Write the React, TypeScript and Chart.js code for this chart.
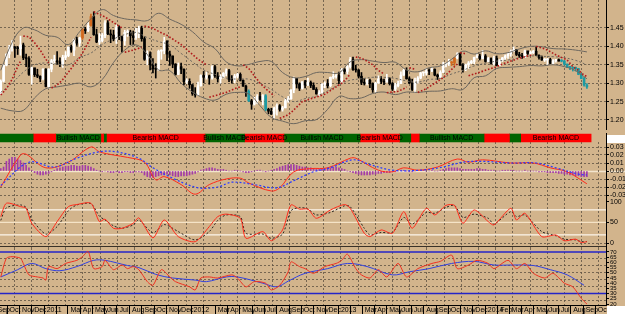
import React, { useEffect, useRef } from 'react';
import { Chart, registerables } from 'chart.js';

Chart.register(...registerables);

const W = 625;
const AXIS_W = 19;
const FONT = '"Liberation Sans", Arial, Helvetica, sans-serif';
const BG = '#D2B48C';
const GRID = 'rgba(95,82,66,0.8)';
const CLEAR = 'rgba(0,0,0,0)';
const X_MIN = -0.27;
const X_MAX = 214.78;
const START_MS = Date.UTC(2010, 8, 13);
const WEEK_MS = 7 * 86400000;
const GRID_W0 = -1.4;
const GRID_DW = 6.104;

// ---------------- price (weekly candles) ----------------
const firstOpen = 1.272;
const closes = [
  1.3055, 1.349, 1.379, 1.396, 1.398, 1.395, 1.394, 1.404, 1.369, 1.367,
  1.324, 1.342, 1.323, 1.319, 1.312, 1.338, 1.291, 1.338, 1.361, 1.361,
  1.358, 1.351, 1.37, 1.375, 1.398, 1.39, 1.418, 1.409, 1.423, 1.447,
  1.443, 1.457, 1.481, 1.432, 1.412, 1.416, 1.43, 1.464, 1.434, 1.431,
  1.42, 1.451, 1.426, 1.415, 1.438, 1.439, 1.429, 1.424, 1.439, 1.449,
  1.421, 1.365, 1.379, 1.35, 1.339, 1.338, 1.387, 1.389, 1.414, 1.379,
  1.374, 1.352, 1.324, 1.345, 1.338, 1.304, 1.305, 1.296, 1.272, 1.268,
  1.293, 1.321, 1.316, 1.32, 1.314, 1.345, 1.32, 1.312, 1.317, 1.327,
  1.334, 1.31, 1.308, 1.319, 1.324, 1.308, 1.292, 1.278, 1.252, 1.243,
  1.252, 1.264, 1.256, 1.266, 1.229, 1.224, 1.216, 1.232, 1.239, 1.229,
  1.233, 1.252, 1.258, 1.282, 1.313, 1.298, 1.286, 1.304, 1.295, 1.302,
  1.294, 1.283, 1.271, 1.274, 1.297, 1.299, 1.293, 1.316, 1.318, 1.321,
  1.307, 1.337, 1.332, 1.345, 1.364, 1.337, 1.336, 1.319, 1.302, 1.3,
  1.308, 1.299, 1.282, 1.3, 1.311, 1.305, 1.303, 1.312, 1.299, 1.284,
  1.293, 1.299, 1.322, 1.335, 1.312, 1.301, 1.283, 1.307, 1.314, 1.328,
  1.328, 1.334, 1.333, 1.338, 1.322, 1.318, 1.329, 1.352, 1.352, 1.356,
  1.355, 1.368, 1.38, 1.349, 1.337, 1.35, 1.355, 1.359, 1.37, 1.374,
  1.367, 1.374, 1.359, 1.367, 1.354, 1.368, 1.348, 1.363, 1.369, 1.374,
  1.38, 1.387, 1.391, 1.378, 1.375, 1.37, 1.388, 1.381, 1.383, 1.387,
  1.376, 1.37, 1.363, 1.363, 1.364, 1.354, 1.361, 1.364, 1.36, 1.36,
  1.352, 1.343, 1.343, 1.341, 1.34, 1.324, 1.313, 1.295, 1.29,
];
const highs = [
  1.309, 1.35, 1.38, 1.403, 1.416, 1.4, 1.4, 1.428, 1.409, 1.379,
  1.372, 1.344, 1.34, 1.338, 1.32, 1.34, 1.34, 1.34, 1.365, 1.376,
  1.386, 1.369, 1.376, 1.386, 1.399, 1.404, 1.42, 1.425, 1.425, 1.448,
  1.452, 1.465, 1.488, 1.494, 1.447, 1.435, 1.435, 1.47, 1.47, 1.445,
  1.444, 1.458, 1.456, 1.428, 1.444, 1.445, 1.444, 1.442, 1.449, 1.455,
  1.455, 1.426, 1.388, 1.385, 1.367, 1.353, 1.39, 1.391, 1.425, 1.416,
  1.387, 1.374, 1.353, 1.355, 1.355, 1.339, 1.312, 1.312, 1.296, 1.288,
  1.303, 1.323, 1.332, 1.33, 1.322, 1.348, 1.349, 1.329, 1.323, 1.329,
  1.339, 1.338, 1.321, 1.324, 1.327, 1.328, 1.309, 1.295, 1.282, 1.256,
  1.262, 1.269, 1.275, 1.269, 1.269, 1.232, 1.232, 1.235, 1.244, 1.242,
  1.237, 1.258, 1.264, 1.282, 1.317, 1.311, 1.301, 1.304, 1.308, 1.314,
  1.306, 1.301, 1.288, 1.28, 1.299, 1.304, 1.31, 1.317, 1.331, 1.326,
  1.33, 1.34, 1.34, 1.348, 1.37, 1.371, 1.349, 1.337, 1.329, 1.313,
  1.311, 1.311, 1.301, 1.303, 1.32, 1.318, 1.311, 1.324, 1.315, 1.302,
  1.3, 1.306, 1.331, 1.339, 1.342, 1.317, 1.311, 1.314, 1.318, 1.33,
  1.33, 1.34, 1.339, 1.343, 1.339, 1.325, 1.334, 1.357, 1.355, 1.365,
  1.359, 1.37, 1.383, 1.381, 1.353, 1.352, 1.359, 1.362, 1.371, 1.381,
  1.379, 1.389, 1.378, 1.37, 1.369, 1.374, 1.374, 1.364, 1.37, 1.377,
  1.382, 1.39, 1.399, 1.392, 1.384, 1.381, 1.39, 1.385, 1.387, 1.389,
  1.399, 1.377, 1.374, 1.367, 1.368, 1.368, 1.364, 1.365, 1.366, 1.364,
  1.362, 1.352, 1.345, 1.344, 1.344, 1.34, 1.326, 1.316, 1.299,
];
const lows = [
  1.27, 1.303, 1.347, 1.369, 1.387, 1.37, 1.378, 1.376, 1.364, 1.345,
  1.321, 1.297, 1.318, 1.315, 1.304, 1.309, 1.29, 1.287, 1.331, 1.353,
  1.352, 1.345, 1.343, 1.364, 1.372, 1.384, 1.375, 1.403, 1.4, 1.419,
  1.435, 1.44, 1.455, 1.43, 1.41, 1.405, 1.412, 1.424, 1.432, 1.41,
  1.415, 1.408, 1.418, 1.384, 1.403, 1.427, 1.405, 1.405, 1.419, 1.424,
  1.414, 1.362, 1.35, 1.336, 1.328, 1.314, 1.334, 1.365, 1.38, 1.361,
  1.348, 1.342, 1.322, 1.323, 1.326, 1.295, 1.299, 1.286, 1.267, 1.262,
  1.266, 1.292, 1.301, 1.311, 1.297, 1.311, 1.316, 1.303, 1.3, 1.314,
  1.32, 1.304, 1.3, 1.301, 1.314, 1.306, 1.291, 1.264, 1.25, 1.229,
  1.24, 1.244, 1.253, 1.241, 1.225, 1.217, 1.215, 1.204, 1.213, 1.224,
  1.224, 1.233, 1.248, 1.256, 1.274, 1.287, 1.28, 1.284, 1.287, 1.293,
  1.288, 1.283, 1.27, 1.266, 1.273, 1.288, 1.287, 1.29, 1.312, 1.314,
  1.299, 1.3, 1.325, 1.325, 1.341, 1.335, 1.33, 1.314, 1.296, 1.295,
  1.295, 1.288, 1.275, 1.274, 1.3, 1.299, 1.296, 1.303, 1.295, 1.28,
  1.28, 1.29, 1.299, 1.321, 1.311, 1.299, 1.28, 1.275, 1.3, 1.312,
  1.32, 1.322, 1.323, 1.331, 1.32, 1.31, 1.315, 1.329, 1.344, 1.348,
  1.348, 1.348, 1.366, 1.348, 1.33, 1.334, 1.34, 1.353, 1.353, 1.369,
  1.363, 1.366, 1.357, 1.358, 1.352, 1.35, 1.347, 1.348, 1.359, 1.364,
  1.367, 1.373, 1.386, 1.375, 1.37, 1.367, 1.37, 1.378, 1.378, 1.38,
  1.375, 1.365, 1.362, 1.359, 1.35, 1.353, 1.352, 1.357, 1.36, 1.358,
  1.349, 1.342, 1.337, 1.333, 1.333, 1.323, 1.312, 1.292, 1.286,
];
const tealBars = [88, 94, 199, 200, 201, 202, 203, 204, 205, 206, 207, 208];
const orangeBars = [29, 32, 160, 161];

// Bollinger bands (sampled every 4 weeks)
const bandWeeks = [
  0, 4, 8, 12, 16, 20, 24, 28, 32, 36, 40, 44, 48, 52, 56, 60, 64, 68, 72, 76,
  80, 84, 88, 92, 96, 100, 104, 108, 112, 116, 120, 124, 128, 132, 136, 140,
  144, 148, 152, 156, 160, 164, 168, 172, 176, 180, 184, 188, 192, 196, 200, 204, 208,
];
const bandUpper = [
  1.335, 1.41, 1.45, 1.445, 1.43, 1.425, 1.405, 1.44, 1.475, 1.5,
  1.484, 1.475, 1.472, 1.47, 1.49, 1.474, 1.46, 1.44, 1.412, 1.394,
  1.358, 1.347, 1.351, 1.359, 1.359, 1.329, 1.315, 1.318, 1.329, 1.329,
  1.328, 1.358, 1.364, 1.36, 1.356, 1.357, 1.336, 1.331, 1.342, 1.347,
  1.365, 1.387, 1.379, 1.388, 1.38, 1.383, 1.393, 1.4, 1.399, 1.394,
  1.393, 1.39, 1.385,
];
const bandMiddle = [
  1.275, 1.3, 1.33, 1.35, 1.355, 1.352, 1.35, 1.37, 1.382, 1.405,
  1.42, 1.432, 1.438, 1.424, 1.413, 1.404, 1.381, 1.358, 1.336, 1.324,
  1.314, 1.311, 1.311, 1.299, 1.283, 1.263, 1.25, 1.258, 1.265, 1.279,
  1.296, 1.308, 1.312, 1.316, 1.316, 1.313, 1.306, 1.303, 1.31, 1.313,
  1.325, 1.335, 1.347, 1.354, 1.36, 1.363, 1.369, 1.374, 1.373, 1.372,
  1.369, 1.362, 1.35,
];
const bandLower = [
  1.232, 1.225, 1.226, 1.26, 1.285, 1.29, 1.295, 1.3, 1.29, 1.31,
  1.356, 1.39, 1.404, 1.378, 1.336, 1.334, 1.3, 1.276, 1.26, 1.254,
  1.27, 1.275, 1.271, 1.239, 1.207, 1.197, 1.19, 1.198, 1.201, 1.229,
  1.264, 1.258, 1.26, 1.272, 1.276, 1.269, 1.276, 1.275, 1.278, 1.279,
  1.285, 1.283, 1.315, 1.32, 1.34, 1.343, 1.345, 1.348, 1.347, 1.35,
  1.345, 1.334, 1.312,
];

// Parabolic SAR (null = trend flip)
const sarWeeks = [
  0, 2, 4, 6, 7, 7.5, 8, 10, 12, 14, 16, 17, 17.5, 18, 20, 22, 24, 26, 28, 30, 32, 32.5,
  33, 35, 37, 39, 41, 43, 43.5, 44, 46, 48, 50, 50.5, 51, 53, 55, 57, 59, 61, 64, 67, 70, 73, 73.5,
  74, 77, 80, 83, 85, 85.5, 86, 88, 90, 92, 94, 96, 97, 98,
  99, 101, 103, 105, 107, 109, 111, 113, 115, 117, 119, 121, 123, 124, 125,
  126, 128, 130, 132, 134, 136, 136.5, 137, 139, 141, 143, 144, 144.5, 145, 146, 147, 147.5,
  148, 151, 154, 157, 159, 161, 162, 162.5, 163, 165, 165.5, 166, 172, 176, 178, 184, 189, 189.5,
  190, 192, 194, 197, 201, 203, 205, 207, 208,
];
const sarValues = [
  1.268, 1.285, 1.31, 1.345, 1.36, null, 1.428, 1.426, 1.41, 1.39, 1.365, 1.355, null,
  1.287, 1.295, 1.31, 1.33, 1.35, 1.37, 1.395, 1.425, null,
  1.494, 1.487, 1.48, 1.47, 1.46, 1.45, null, 1.384, 1.388, 1.392, 1.398, null,
  1.455, 1.452, 1.445, 1.437, 1.43, 1.42, 1.405, 1.385, 1.365, 1.35, null,
  1.262, 1.268, 1.275, 1.285, 1.29, null, 1.35, 1.34, 1.32, 1.3, 1.285, 1.272, 1.265, null,
  1.205, 1.21, 1.22, 1.235, 1.25, 1.255, 1.26, 1.265, 1.27, 1.28, 1.29, 1.3, 1.315, 1.325, null,
  1.371, 1.368, 1.36, 1.35, 1.335, 1.325, null, 1.274, 1.276, 1.278, 1.285, 1.29, null,
  1.342, 1.34, 1.338, null, 1.275, 1.285, 1.3, 1.315, 1.33, 1.345, 1.352, null,
  1.383, 1.38, null, 1.32, 1.335, 1.345, 1.352, 1.368, 1.378, null,
  1.4, 1.396, 1.39, 1.377, 1.363, 1.345, 1.335, 1.322, 1.318,
];

// ---------------- MACD state strip ----------------
const stripStart = [-0.5, 11.5, 19.5, 35.5, 36.5, 37.5, 72.5, 86.5, 100.5, 127.5, 141.5, 145.5, 148.5, 171.5, 180.5, 184.5];
const stripEnd = [11.5, 19.5, 35.5, 36.5, 37.5, 72.5, 86.5, 100.5, 127.5, 141.5, 145.5, 148.5, 171.5, 180.5, 184.5, 209.5];
const stripBullish = [1, 0, 1, 0, 1, 0, 1, 0, 1, 0, 1, 0, 1, 0, 1, 0];
const stripText = [0, 0, 1, 0, 0, 1, 1, 1, 1, 1, 0, 0, 1, 0, 0, 1];
const BULL_TEXT = 'Bullish MACD';
const BEAR_TEXT = 'Bearish MACD';

// ---------------- MACD (values in thousandths) ----------------
const histogram = [
  3, 5,
  12, 15, 17, 17, 15, 13,
  10, 7, 4,
  1, -2, -4, -5, -5, -4, -3, -1,
  1, 3, 4, 5, 6, 6, 7, 7, 6, 6, 7, 7, 6, 5,
  3, 1, 0, -1, 0, -1, -2, -2, -1, -2, -2, -1, -1, -2, -2, -1, -1, -2,
  -5, -7, -8, -8, -7, -6, -5, -5, -4, -5, -6, -7, -7, -6, -6, -6, -5, -4, -3, -1, 1, 2,
  3, 4, 4, 3, 2, 2, 2, 1, 0, 0, 1, 1, 0, -1, -2, -2, -1, 0, 1, 1, 0, -1, 0, 1, 2,
  3, 5, 6, 7, 8, 8, 8, 7, 6, 5, 5, 4,
  4, 3, 2, 2, 3, 3, 4, 4, 5, 5, 4, 3,
  2, 0, -1, -2, -3, -4, -5, -5, -5, -5, -4, -4, -3, -3, -2, -2, -2, -1, -1, 0,
  1, 1, 0, -1, -1, 0, 1, 1, 1, 0, 0, 1, 0, 0,
  1, 2, 3, 4, 4, 4, 4, 3, 2, 2,
  2, 2, 2, 3, 3, 2, 2, 1, 1, 1, 0, 0, 1, 1, 1, 1,
  1, 0, 0, 0, 1, 0, 0, 0, 0, -1, -1, -1, -2, -2, -2, -2,
  -3, -3, -4, -4, -5, -5, -6, -6, -7, -7, -7,
];
const macdWeeks = [0, 7, 9, 16, 24, 32, 35, 40, 45, 51, 55, 58, 64, 69, 74, 80, 85, 88, 96, 99, 104, 110, 116, 124, 126, 134, 139, 143, 148, 155, 162, 166, 171, 181, 189, 195, 201, 208];
const macdMain = [-20, 20, 21, 4, 11, 30, 24, 20, 17, 11, -11, -7, -17, -29, -17, -10, -9, -15, -25, -21, -1, 3, 4, 16, 16, 1, -1, 4, 1, 5, 15, 11, 14, 10, 10, 4, -1, -16];
const signalWeeks = [0, 10, 19, 27, 35, 41, 49, 54, 61, 70, 77, 82, 90, 98, 104, 111, 117, 125, 131, 139, 149, 157, 164, 171, 181, 190, 197, 205, 208];
const macdSignal = [-18, 11, 5, 16, 24, 24, 16, 4, -9, -21, -20, -14, -17, -21, -12, -1, 4, 14, 8, 1, 1, 5, 11, 12, 10, 10, 4, -4, -5];

// ---------------- Stochastic ----------------
const stochWeeks = [0, 2, 7, 9, 11, 16, 20, 24, 27, 32, 35, 37, 40, 43, 47, 49, 54, 58, 63, 69, 74, 77, 80, 85, 87, 93, 96, 100, 103, 106, 109, 112, 117, 122, 124, 129, 131, 135, 139, 143, 146, 151, 154, 158, 161, 164, 168, 173, 175, 181, 183, 186, 192, 197, 200, 204, 206, 208];
const stochK = [64, 96, 88, 84, 48, 16, 52, 88, 93, 96, 52, 58, 36, 36, 48, 61, 13, 56, 16, 4, 40, 64, 70, 60, 12, 28, 6, 32, 92, 82, 82, 60, 80, 93, 84, 24, 16, 32, 24, 76, 36, 84, 68, 91, 91, 48, 80, 52, 44, 84, 56, 72, 16, 20, 6, 10, 2, 4];
const stochD = [55, 85, 92, 86, 58, 22, 40, 78, 92, 95, 65, 56, 42, 36, 44, 56, 25, 45, 28, 8, 28, 55, 68, 64, 24, 22, 12, 22, 78, 86, 82, 68, 74, 90, 88, 36, 20, 26, 26, 62, 46, 74, 72, 86, 91, 62, 70, 60, 46, 76, 64, 68, 28, 18, 10, 8, 4, 4];

// ---------------- RSI ----------------
const rsiWeeks = [0, 2, 4, 7, 8, 10, 13, 15, 16, 17, 20, 23, 27, 29, 31, 33, 36, 37, 40, 43, 45, 47, 49, 52, 54, 57, 60, 62, 67, 69, 71, 74, 77, 82, 84, 87, 90, 94, 96, 99, 102, 103, 106, 108, 111, 115, 119, 121, 123, 126, 128, 131, 134, 137, 141, 144, 148, 153, 156, 160, 162, 166, 169, 173, 175, 180, 183, 186, 189, 193, 196, 200, 203, 206, 208];
const rsiValues = [46, 64, 65.5, 64, 59, 48, 46, 45, 43, 56, 54, 59, 62, 65.5, 70.5, 54, 56, 62, 53, 57.5, 54, 56, 53, 41.5, 38, 53, 46, 41.5, 36.5, 33.5, 45, 46, 45, 48, 45, 36.5, 41.5, 40, 33.5, 38, 51, 60.5, 56, 54, 49.5, 56, 59, 62, 68, 54, 48, 45, 53, 46, 59, 46, 54, 59, 61, 67, 54, 57.5, 62, 59, 54, 62, 54, 59, 49.5, 45, 49.5, 40, 36.5, 25.5, 20];
const rsiMaWeeks = [0, 6, 11, 16, 21, 27, 33, 37, 45, 49, 55, 61, 69, 73, 80, 84, 93, 98, 102, 108, 116, 123, 130, 139, 145, 152, 160, 168, 175, 182, 189, 195, 201, 207];
const rsiMa = [46, 53, 59, 54, 52, 56, 62, 62, 57, 55, 48.5, 45, 43, 41.5, 46, 46, 40, 36.5, 42, 49.5, 54, 59, 56, 48, 51, 54, 59, 61, 57.5, 57.5, 57, 53, 48, 38];

// ---------------- axes ----------------
const priceTicks = [1.2, 1.25, 1.3, 1.35, 1.4, 1.45];
const macdTicks = [0.03, 0.02, 0.01, 0, -0.01, -0.02, -0.03];
const macdGrid = [0.03, 0.02, 0.01, -0.01, -0.02, -0.03];
const stochTicks = [100, 50, 0];
const stochGrid = [0];
const stochLevels = [80, 50, 20];
const rsiTicks = [70, 65, 60, 55, 50, 45, 40, 35, 30, 25, 20];
const rsiGrid = [63.33, 56.67, 50, 43.33, 36.67, 23.33];
const rsiLevels = [70, 30];
const axisMonths = [
  '2010-09', '2010-10', '2010-11', '2010-12',
  '2011-01', '2011-02', '2011-03', '2011-04', '2011-05', '2011-06', '2011-07', '2011-08', '2011-09', '2011-10', '2011-11', '2011-12',
  '2012-01', '2012-02', '2012-03', '2012-04', '2012-05', '2012-06', '2012-07', '2012-08', '2012-09', '2012-10', '2012-11', '2012-12',
  '2013-01', '2013-02', '2013-03', '2013-04', '2013-05', '2013-06', '2013-07', '2013-08', '2013-09', '2013-10', '2013-11', '2013-12',
  '2014-01', '2014-02', '2014-03', '2014-04', '2014-05', '2014-06', '2014-07', '2014-08', '2014-09', '2014-10',
];
const hiddenMonthLabels = ['2011-02', '2012-02', '2013-02'];
const MONTH_NAMES = ['Jan', 'Feb', 'Mar', 'Apr', 'May', 'Jun', 'Jul', 'Aug', 'Sep', 'Oct', 'Nov', 'Dec'];

// ---------------- helpers ----------------
const monthPos = (key: string) => {
  const [y, m] = key.split('-').map(Number);
  return (Date.UTC(y, m - 1, 1) - START_MS) / WEEK_MS - 0.5;
};
const monthText = (key: string) => {
  if (!key || hiddenMonthLabels.includes(key)) return '';
  const [y, m] = key.split('-').map(Number);
  return m === 1 ? String(y) : MONTH_NAMES[m - 1];
};
const gridWeeks: number[] = [];
for (let w = GRID_W0; w <= X_MAX; w += GRID_DW) gridWeeks.push(w);

const pts = (xs: number[], ys: (number | null)[], k = 1) =>
  xs.map((x, i) => ({ x, y: ys[i] == null ? null : (ys[i] as number) * k }));
const level = (v: number) => [{ x: X_MIN, y: v }, { x: X_MAX, y: v }];
const openAt = (i: number) => (i === 0 ? firstOpen : closes[i - 1]);
const candleColors = closes.map((c, i) =>
  tealBars.includes(i) ? '#1C9AA3' : orangeBars.includes(i) ? '#D2691E' : c >= openAt(i) ? '#FFFFFF' : '#000000'
);

function xAxis(showLabels: boolean): any {
  return {
    type: 'linear',
    min: X_MIN,
    max: X_MAX,
    offset: false,
    afterBuildTicks: (s: any) => {
      s.ticks = [
        ...gridWeeks.map((v) => ({ value: v, grid: true })),
        ...axisMonths.map((k) => ({ value: monthPos(k), month: k })),
      ];
    },
    afterFit: (s: any) => {
      s.height = showLabels ? 9 : 0;
      s.paddingLeft = 0;
      s.paddingRight = 0;
    },
    grid: {
      display: true,
      color: (c: any) => (c.tick && c.tick.grid ? GRID : CLEAR),
      lineWidth: 1,
      drawTicks: false,
      offset: false,
    },
    border: { display: showLabels, color: '#000', width: 1, dash: [2, 2] },
    ticks: {
      display: showLabels,
      autoSkip: false,
      maxRotation: 0,
      minRotation: 0,
      align: 'start',
      padding: 1,
      labelOffset: 3,
      color: '#000',
      font: { family: FONT, size: 7 },
      callback: (_v: any, i: number, ticks: any[]) => (ticks[i] && ticks[i].month ? monthText(ticks[i].month) : ''),
    },
  };
}

function yAxis(min: number, max: number, labels: number[], grids: number[], fmt: (v: number) => string, size = 7): any {
  return {
    position: 'right',
    min,
    max,
    afterBuildTicks: (s: any) => {
      s.ticks = [
        ...labels.map((v) => ({ value: v, lab: true, grid: grids.includes(v) })),
        ...grids.filter((v) => !labels.includes(v)).map((v) => ({ value: v, lab: false, grid: true })),
      ];
    },
    afterFit: (s: any) => {
      s.width = AXIS_W;
      s.paddingTop = 0;
      s.paddingBottom = 0;
    },
    grid: {
      display: true,
      color: (c: any) => (c.tick && c.tick.grid ? GRID : CLEAR),
      drawTicks: true,
      tickLength: 3,
      tickColor: (c: any) => (c.tick && c.tick.lab ? '#000' : CLEAR),
      tickWidth: 1,
    },
    border: { display: true, color: '#000', width: 1, dash: [2, 2] },
    ticks: {
      autoSkip: false,
      padding: 1,
      color: '#000',
      font: { family: FONT, size },
      callback: (v: any, i: number, ticks: any[]) => (ticks[i] && ticks[i].lab ? fmt(Number(v)) : ''),
    },
  };
}

function baseOptions(scales: any, extra: any = {}): any {
  return {
    responsive: false,
    maintainAspectRatio: false,
    animation: false,
    devicePixelRatio: 1,
    events: [],
    layout: { padding: 0 },
    plugins: { legend: { display: false }, tooltip: { enabled: false }, title: { display: false } },
    scales,
    ...extra,
  };
}

const lineDs = (data: any[], color: string, width = 1, extra: any = {}) => ({
  type: 'line',
  data,
  borderColor: color,
  borderWidth: width,
  pointRadius: 0,
  fill: false,
  tension: 0,
  order: 1,
  ...extra,
});

// ---------------- chart configs ----------------
const PRICE_H = 130;
const PRICE_MAX = 1.45 + 28 / 368;
const PRICE_MIN = PRICE_MAX - PRICE_H / 368;

function priceConfig(): any {
  return {
    type: 'bar',
    data: {
      datasets: [
        lineDs(pts(bandWeeks, bandUpper), '#6c675f', 1, { tension: 0.4 }),
        lineDs(pts(bandWeeks, bandLower), '#6c675f', 1, { tension: 0.4 }),
        lineDs(pts(bandWeeks, bandMiddle), '#6c675f', 1, { tension: 0.4, borderDash: [2, 2] }),
        lineDs(pts(sarWeeks, sarValues), '#B01C1C', 1.6, { borderDash: [1.6, 1.8], spanGaps: false, order: 0 }),
        {
          type: 'bar',
          data: closes.map((_c, i) => ({ x: i, y: [lows[i], highs[i]] })),
          backgroundColor: candleColors,
          barThickness: 1,
          grouped: false,
          order: 6,
        },
        {
          type: 'bar',
          data: closes.map((c, i) => ({ x: i, y: [openAt(i), c] })),
          backgroundColor: candleColors,
          barThickness: 2,
          minBarLength: 1,
          grouped: false,
          order: 5,
        },
      ],
    },
    options: baseOptions({
      x: xAxis(false),
      y: yAxis(PRICE_MIN, PRICE_MAX, priceTicks, priceTicks, (v) => v.toFixed(2)),
    }),
  };
}

const stripPlugin = {
  id: 'stripText',
  afterDatasetsDraw(chart: any) {
    const { ctx, chartArea, scales } = chart;
    const x = scales.x;
    ctx.save();
    ctx.font = `7px ${FONT}`;
    ctx.fillStyle = '#000';
    ctx.textAlign = 'center';
    ctx.textBaseline = 'middle';
    stripStart.forEach((s, k) => {
      if (!stripText[k]) return;
      const px = (x.getPixelForValue(s) + x.getPixelForValue(stripEnd[k])) / 2;
      ctx.fillText(stripBullish[k] ? BULL_TEXT : BEAR_TEXT, px, (chartArea.top + chartArea.bottom) / 2 + 0.5);
    });
    ctx.fillStyle = '#FFFFFF';
    ctx.fillRect(607, 2, 18, 8);
    ctx.restore();
  },
};

function stripConfig(): any {
  return {
    type: 'bar',
    data: {
      labels: ['MACD'],
      datasets: stripStart.map((s, k) => ({
        data: [[s, stripEnd[k]]],
        backgroundColor: stripBullish[k] ? '#006400' : '#FF0000',
        barThickness: 8,
        grouped: false,
        borderWidth: 0,
      })),
    },
    options: baseOptions(
      {
        x: { type: 'linear', min: X_MIN, max: X_MAX, display: false },
        y: {
          position: 'right',
          ticks: { display: false },
          grid: { display: false },
          border: { display: true, color: '#000' },
          afterFit: (s: any) => {
            s.width = AXIS_W;
            s.paddingTop = 0;
            s.paddingBottom = 0;
          },
        },
      },
      { indexAxis: 'y' }
    ),
    plugins: [stripPlugin],
  };
}

const MACD_H = 57;
const zeroLinePlugin = {
  id: 'zeroLine',
  beforeDraw(chart: any) {
    const { ctx, scales } = chart;
    const py = Math.round(scales.y.getPixelForValue(0)) + 0.5;
    ctx.save();
    ctx.strokeStyle = '#F3E5CE';
    ctx.lineWidth = 1.5;
    ctx.beginPath();
    ctx.moveTo(0, py);
    ctx.lineTo(chart.width, py);
    ctx.stroke();
    ctx.restore();
  },
};

function macdConfig(): any {
  return {
    type: 'bar',
    data: {
      datasets: [
        {
          type: 'bar',
          data: histogram.map((h, i) => ({ x: i, y: h / 1000 })),
          backgroundColor: '#A23BA8',
          barThickness: 1,
          grouped: false,
          order: 5,
        },
        lineDs(pts(macdWeeks, macdMain, 0.001), '#FF2A1A', 1, { tension: 0.35 }),
        lineDs(pts(signalWeeks, macdSignal, 0.001), '#2B3BFF', 1.2, { tension: 0.35, borderDash: [2, 2], order: 0 }),
      ],
    },
    options: baseOptions({
      x: xAxis(false),
      y: yAxis(-(MACD_H - 29) / 800, 29 / 800, macdTicks, macdGrid, (v) => (Math.abs(v) < 1e-9 ? '0.00' : v.toFixed(2))),
    }),
    plugins: [zeroLinePlugin],
  };
}

const STOCH_H = 49;
const separatorPlugin = {
  id: 'separator',
  afterDraw(chart: any) {
    const { ctx, chartArea } = chart;
    ctx.save();
    ctx.fillStyle = '#3a3228';
    ctx.fillRect(0, chart.height - 2, chartArea.right, 1);
    ctx.restore();
  },
};

function stochConfig(): any {
  return {
    type: 'line',
    data: {
      datasets: [
        ...stochLevels.map((v) => lineDs(level(v), v === 50 ? 'rgba(248,232,205,0.9)' : 'rgba(255,250,240,0.95)', 1.2, { order: 3 })),
        lineDs(pts(stochWeeks, stochK), '#FF2A1A', 1, { tension: 0.25 }),
        lineDs(pts(stochWeeks, stochD), '#2a2420', 1, { tension: 0.25, borderDash: [2, 2], order: 2 }),
      ],
    },
    options: baseOptions({
      x: xAxis(false),
      y: yAxis(-(STOCH_H - 44.3) / 0.417, 44.3 / 0.417, stochTicks, stochGrid, (v) => String(v)),
    }),
    plugins: [separatorPlugin],
  };
}

const RSI_H = 66;
const timeAxisPlugin = {
  id: 'timeAxis',
  afterDraw(chart: any) {
    const { ctx, chartArea, scales } = chart;
    const x = scales.x;
    ctx.save();
    ctx.strokeStyle = '#000';
    ctx.lineWidth = 1;
    axisMonths.forEach((k) => {
      const px = Math.round(x.getPixelForValue(monthPos(k))) + 0.5;
      if (px < 0 || px > chartArea.right) return;
      ctx.beginPath();
      ctx.moveTo(px, chartArea.bottom);
      ctx.lineTo(px, chart.height);
      ctx.stroke();
    });
    ctx.fillStyle = '#FFFFFF';
    ctx.fillRect(607, 58, 18, 8);
    ctx.restore();
  },
};

function rsiConfig(): any {
  const max = 70 + 4 / 1.04;
  const min = max - (RSI_H - 9) / 1.04;
  return {
    type: 'line',
    data: {
      datasets: [
        ...rsiLevels.map((v) => lineDs(level(v), '#2424C8', 1.5, { order: 3 })),
        lineDs(pts(rsiWeeks, rsiValues), '#F03020', 1, { tension: 0.25 }),
        lineDs(pts(rsiMaWeeks, rsiMa), '#3040E0', 1, { tension: 0.35, order: 2 }),
      ],
    },
    options: baseOptions({
      x: xAxis(true),
      y: yAxis(min, max, rsiTicks, rsiGrid, (v) => String(v), 6),
    }),
    plugins: [timeAxisPlugin],
  };
}

// ---------------- components ----------------
function ChartCanvas({ top, height, build }: { top: number; height: number; build: () => any }) {
  const ref = useRef<HTMLCanvasElement | null>(null);
  useEffect(() => {
    if (!ref.current) return;
    const chart = new Chart(ref.current, build());
    return () => chart.destroy();
  }, []);
  return (
    <canvas
      ref={ref}
      width={W}
      height={height}
      style={{ position: 'absolute', left: 0, top, width: W, height, display: 'block' }}
    />
  );
}

export default function App() {
  useEffect(() => {
    document.body.style.margin = '0';
  }, []);
  return (
    <div style={{ position: 'fixed', left: 0, top: 0, width: W, height: 314, background: BG, overflow: 'hidden' }}>
      <ChartCanvas top={0} height={PRICE_H} build={priceConfig} />
      <ChartCanvas top={142} height={MACD_H} build={macdConfig} />
      <ChartCanvas top={133} height={10} build={stripConfig} />
      <ChartCanvas top={199} height={STOCH_H} build={stochConfig} />
      <ChartCanvas top={248} height={RSI_H} build={rsiConfig} />
    </div>
  );
}
